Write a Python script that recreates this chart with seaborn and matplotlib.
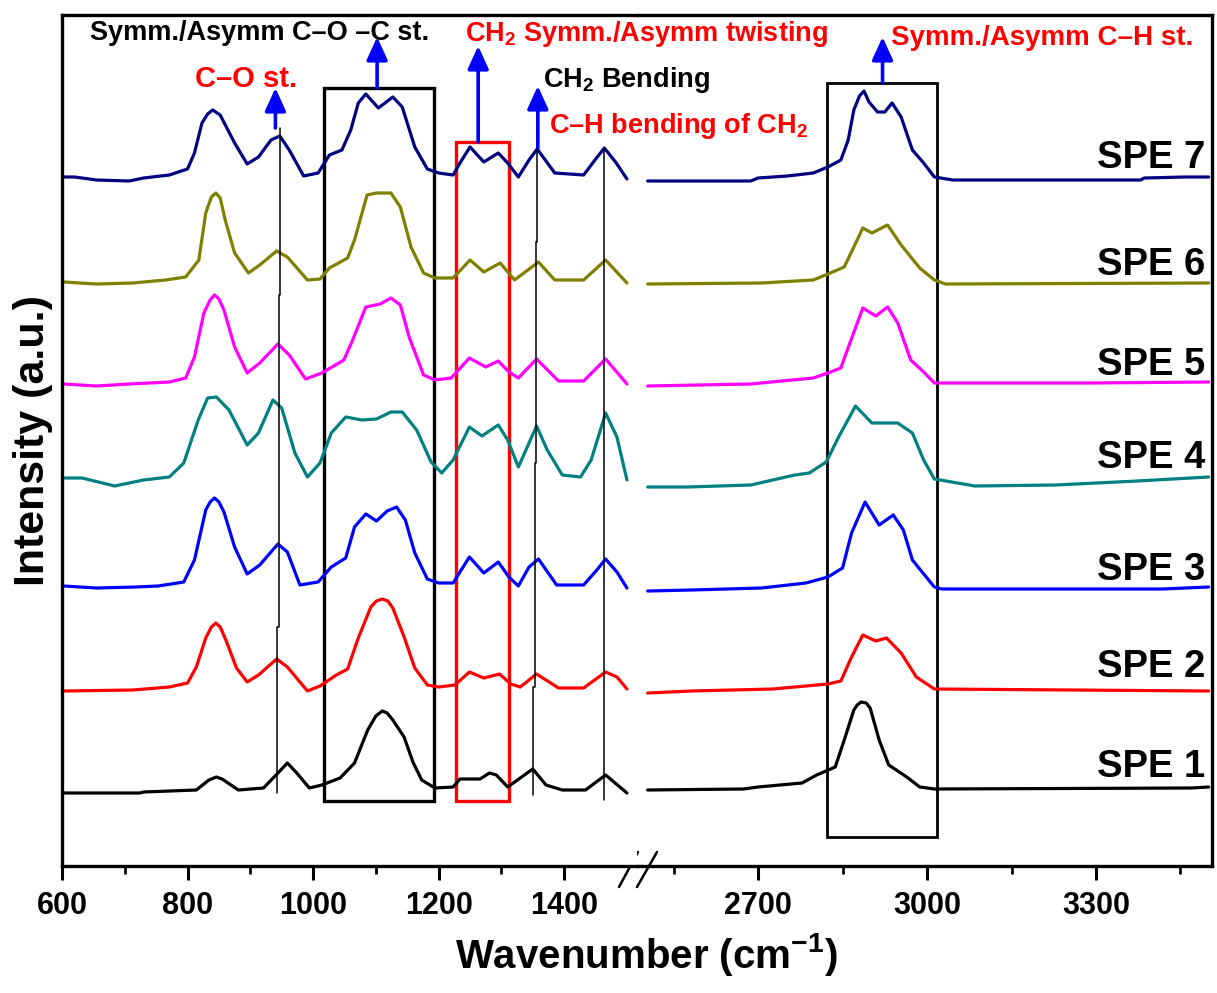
import numpy as np
import pandas as pd
import matplotlib
matplotlib.use("Agg")
import matplotlib.pyplot as plt
import seaborn as sns
from matplotlib.lines import Line2D
from matplotlib.patches import Rectangle

# ---------------- data ----------------
samples = ["SPE 1", "SPE 2", "SPE 3", "SPE 4", "SPE 5", "SPE 6", "SPE 7"]
colors = ["#000000", "#FF0000", "#0000FF", "#008080", "#FF00FF", "#808000", "#000080"]

# left segment (600-1500 cm-1)
spe1_lx = [603, 724, 730, 814, 834, 846, 855, 881, 921, 944, 959, 974, 994, 1014, 1043, 1066, 1087,
           1100, 1110, 1118, 1127, 1145, 1159, 1173, 1194, 1223, 1234, 1266, 1281, 1292, 1310, 1350,
           1371, 1397, 1434, 1466, 1500]
spe1_ly = [73, 73, 74, 76, 86, 89, 87, 76, 78, 93, 103, 93, 78, 81, 88, 103, 136,
           150, 155, 153, 146, 129, 104, 86, 78, 79, 87, 87, 93, 91, 79, 97,
           81, 76, 76, 91, 73]

spe2_lx = [603, 713, 771, 800, 814, 829, 838, 845, 852, 861, 878, 895, 913, 942, 959, 991, 1011,
           1037, 1055, 1072, 1092, 1101, 1110, 1119, 1127, 1145, 1162, 1182, 1200, 1226, 1249, 1272,
           1297, 1315, 1330, 1356, 1391, 1431, 1466, 1484, 1500]
spe2_ly = [175, 176, 179, 183, 199, 228, 239, 243, 239, 226, 198, 184, 191, 207, 199, 175, 180,
           191, 197, 228, 259, 265, 267, 265, 258, 229, 198, 181, 179, 181, 194, 188,
           192, 182, 179, 192, 178, 178, 194, 189, 177]

spe3_lx = [603, 655, 718, 753, 794, 811, 829, 836, 843, 850, 858, 875, 895, 915, 944, 959, 979,
           1008, 1029, 1052, 1066, 1084, 1101, 1118, 1133, 1147, 1162, 1182, 1200, 1223, 1249, 1272,
           1295, 1312, 1327, 1344, 1359, 1388, 1431, 1452, 1466, 1484, 1500]
spe3_ly = [280, 278, 279, 280, 284, 306, 356, 364, 368, 364, 354, 319, 292, 301, 322, 314, 281,
           284, 299, 308, 339, 352, 345, 355, 359, 346, 313, 287, 283, 283, 309, 293,
           304, 289, 280, 299, 307, 281, 281, 296, 307, 294, 278]

spe4_lx = [603, 632, 684, 730, 771, 794, 817, 832, 846, 866, 895, 913, 936, 950, 971, 991, 1011,
           1029, 1052, 1078, 1101, 1124, 1142, 1165, 1188, 1205, 1223, 1249, 1269, 1295, 1310, 1327,
           1356, 1373, 1397, 1426, 1443, 1466, 1484, 1500]
spe4_ly = [388, 388, 380, 386, 389, 403, 446, 468, 469, 456, 421, 433, 466, 458, 413, 389, 403,
           433, 449, 446, 447, 454, 454, 436, 404, 393, 406, 439, 430, 441, 426, 399,
           440, 416, 391, 389, 406, 453, 429, 386]

spe5_lx = [603, 655, 707, 771, 797, 811, 826, 836, 843, 850, 858, 875, 895, 915, 944, 962, 988,
           1014, 1049, 1063, 1084, 1107, 1124, 1139, 1153, 1176, 1194, 1220, 1249, 1275, 1295, 1312,
           1327, 1356, 1391, 1431, 1466, 1500]
spe5_ly = [482, 480, 482, 484, 488, 509, 553, 566, 571, 567, 556, 519, 493, 503, 522, 511, 487,
           493, 506, 526, 559, 562, 568, 561, 529, 491, 486, 488, 508, 499, 505, 494,
           488, 507, 485, 485, 507, 482]

spe6_lx = [603, 655, 713, 765, 797, 818, 829, 838, 845, 852, 860, 875, 897, 915, 942, 959, 991,
           1011, 1026, 1055, 1066, 1086, 1101, 1124, 1139, 1156, 1176, 1194, 1223, 1250, 1272, 1298,
           1321, 1359, 1385, 1431, 1466, 1500]
spe6_ly = [584, 582, 583, 586, 589, 606, 653, 669, 673, 668, 646, 613, 593, 601, 615, 609, 586,
           587, 598, 608, 626, 671, 673, 673, 659, 619, 593, 588, 588, 606, 594, 603,
           586, 604, 586, 586, 606, 583]

spe7_lx = [603, 620, 655, 707, 730, 771, 800, 811, 823, 832, 840, 852, 875, 895, 913, 933, 947,
           962, 985, 1008, 1026, 1046, 1060, 1072, 1084, 1104, 1127, 1142, 1162, 1182, 1200, 1223,
           1234, 1250, 1272, 1295, 1310, 1327, 1344, 1357, 1385, 1431, 1449, 1464, 1483, 1500]
spe7_ly = [689, 689, 686, 685, 688, 691, 697, 713, 743, 752, 756, 751, 723, 702, 709, 726, 730,
           716, 690, 693, 711, 716, 736, 763, 772, 758, 769, 759, 719, 697, 693, 691,
           703, 719, 704, 713, 703, 689, 706, 717, 693, 691, 706, 718, 703, 687]

# right segment (2500-3500 cm-1)
spe1_rx = [2504, 2674, 2700, 2778, 2804, 2837, 2853, 2870, 2876, 2883, 2892, 2899, 2915, 2932, 2964,
           2987, 3013, 3470, 3500]
spe1_ry = [76, 77, 79, 83, 91, 99, 126, 156, 161, 164, 163, 158, 126, 101, 89,
           79, 77, 78, 79]

spe2_rx = [2504, 2582, 2726, 2824, 2847, 2866, 2886, 2909, 2928, 2954, 2981, 3013, 3500]
spe2_ry = [173, 175, 177, 182, 185, 209, 231, 225, 228, 213, 189, 177, 175]

spe3_rx = [2504, 2582, 2706, 2785, 2824, 2850, 2866, 2890, 2915, 2940, 2958, 2974, 3013, 3026, 3418, 3500]
spe3_ry = [275, 276, 278, 283, 289, 298, 333, 364, 341, 351, 336, 306, 279, 277, 277, 279]

spe4_rx = [2504, 2575, 2687, 2765, 2791, 2821, 2843, 2873, 2902, 2948, 2974, 2994, 3013, 3085, 3229, 3373, 3500]
spe4_ry = [379, 379, 381, 391, 393, 404, 429, 460, 443, 443, 433, 406, 387, 380, 381, 385, 389]

spe5_rx = [2504, 2687, 2798, 2824, 2847, 2863, 2886, 2909, 2930, 2948, 2971, 2994, 3013, 3288, 3500]
spe5_ry = [480, 482, 488, 493, 498, 523, 558, 550, 559, 543, 506, 494, 483, 483, 484]

spe6_rx = [2504, 2706, 2798, 2824, 2853, 2870, 2886, 2902, 2930, 2954, 2987, 3013, 3033, 3500]
spe6_ry = [582, 583, 586, 592, 599, 619, 638, 633, 641, 621, 598, 586, 582, 583]

spe7_rx = [2504, 2687, 2700, 2752, 2798, 2824, 2847, 2860, 2870, 2880, 2888, 2897, 2912, 2925, 2938,
           2954, 2974, 2994, 3013, 3046, 3379, 3386, 3458, 3500]
spe7_ry = [685, 685, 688, 690, 693, 699, 706, 726, 756, 770, 775, 764, 754, 754, 763,
           749, 716, 703, 689, 686, 686, 688, 689, 689]

label_y = [89, 189, 286, 398, 491, 591, 698]   # baseline of the "SPE n" labels

left_xticks = [600, 800, 1000, 1200, 1400]
left_minor = [700, 900, 1100, 1300]
right_xticks = [2700, 3000, 3300]
right_minor = [2550, 2850, 3150, 3450]

# ---------------- assemble long tables ----------------
lefts = [(spe1_lx, spe1_ly), (spe2_lx, spe2_ly), (spe3_lx, spe3_ly), (spe4_lx, spe4_ly),
         (spe5_lx, spe5_ly), (spe6_lx, spe6_ly), (spe7_lx, spe7_ly)]
rights = [(spe1_rx, spe1_ry), (spe2_rx, spe2_ry), (spe3_rx, spe3_ry), (spe4_rx, spe4_ry),
          (spe5_rx, spe5_ry), (spe6_rx, spe6_ry), (spe7_rx, spe7_ry)]


def build(parts):
    frames = []
    for name, (xs, ys) in zip(samples, parts):
        frames.append(pd.DataFrame({"wavenumber": xs, "intensity": ys, "sample": name}))
    return pd.concat(frames, ignore_index=True)


df_left = build(lefts)
df_right = build(rights)
palette = dict(zip(samples, colors))

# ---------------- style ----------------
sns.set_style("white")
plt.rcParams["font.family"] = ["Liberation Sans", "DejaVu Sans"]
plt.rcParams["font.weight"] = "bold"
plt.rcParams["text.color"] = "black"
plt.rcParams["xtick.color"] = "black"
plt.rcParams["mathtext.fontset"] = "custom"
plt.rcParams["mathtext.rm"] = "Liberation Sans:bold"
plt.rcParams["mathtext.bf"] = "Liberation Sans:bold"
plt.rcParams["mathtext.it"] = "Liberation Sans:bold"
plt.rcParams["mathtext.default"] = "bf"

W, H = 1217, 993
fig = plt.figure(figsize=(W / 100, H / 100), dpi=100)
ax_bottom = (H - 866) / H
ax_height = 851 / H
axL = fig.add_axes([62 / W, ax_bottom, 575 / W, ax_height])
axR = fig.add_axes([637 / W, ax_bottom, 575 / W, ax_height])
axR.patch.set_visible(False)
axL.set_zorder(3)
axR.set_zorder(2)

sns.lineplot(data=df_left, x="wavenumber", y="intensity", hue="sample", palette=palette,
             estimator=None, sort=False, legend=False, linewidth=2.3, ax=axL)
sns.lineplot(data=df_right, x="wavenumber", y="intensity", hue="sample", palette=palette,
             estimator=None, sort=False, legend=False, linewidth=2.3, ax=axR)
for ax in (axL, axR):
    for ln in ax.get_lines():
        ln.set_solid_joinstyle("round")

axL.set_xlim(600, 1516)
axR.set_xlim(2485, 3506)
for ax in (axL, axR):
    ax.set_ylim(0, 851)
    ax.set_xlabel("")
    ax.set_ylabel("")
    ax.set_yticks([])
    for s in ax.spines.values():
        s.set_linewidth(2.4)
        s.set_color("black")
    ax.tick_params(axis="x", which="major", direction="out", length=10, width=2.2,
                   labelsize=22, pad=8, bottom=True, top=False, colors="black")
    ax.tick_params(axis="x", which="minor", direction="out", length=6, width=2.0,
                   bottom=True, top=False, colors="black")
axL.spines["right"].set_visible(False)
axR.spines["left"].set_visible(False)
axL.set_xticks(left_xticks)
axL.set_xticks(left_minor, minor=True)
axR.set_xticks(right_xticks)
axR.set_xticks(right_minor, minor=True)
for ax in (axL, axR):
    for t in ax.get_xticklabels():
        t.set_fontweight("bold")

# break marks
for (x0, x1) in [(619, 638), (637, 657)]:
    fig.add_artist(Line2D([x0 / W, x1 / W], [(H - 887) / H, (H - 852) / H],
                          color="black", lw=1.8, transform=fig.transFigure))

# vertical guide lines
axL.plot([948, 948, 946, 946, 943, 943], [738, 571, 571, 239, 239, 73], color="black", lw=1.1)
axL.plot([1357, 1357, 1355, 1355, 1353, 1353, 1350, 1350],
         [718, 624, 624, 403, 403, 179, 179, 71], color="black", lw=1.1)
axL.plot([1464, 1464], [718, 66], color="black", lw=1.1)

# boxes
axL.add_patch(Rectangle((1017, 65), 1193 - 1017, 778 - 65, fill=False, ec="black", lw=2.4))
axL.add_patch(Rectangle((1227, 65), 1312 - 1227, 724 - 65, fill=False, ec="#FF0000", lw=2.4))
axR.add_patch(Rectangle((2822, 29), 3018 - 2822, 783 - 29, fill=False, ec="black", lw=2.0))

# blue arrows
arrow_kw = dict(arrowstyle="-|>,head_length=0.7,head_width=0.32", color="#0000FF", lw=2.6,
                mutation_scale=20, shrinkA=0, shrinkB=0)
for ax, x, y0, y1 in [(axL, 940, 738, 778), (axL, 1102, 778, 829), (axL, 1263, 724, 820),
                      (axL, 1358, 718, 780), (axR, 2921, 783, 829)]:
    ax.annotate("", xy=(x, y1), xytext=(x, y0), arrowprops=arrow_kw, annotation_clip=False)

# annotation texts
axL.text(645, 826, "Symm./Asymm C\u2013O \u2013C st.", color="black", fontsize=19.5,
         fontweight="bold", ha="left", va="baseline", clip_on=False)
axL.text(812, 779, "C\u2013O st.", color="#FF0000", fontsize=21, fontweight="bold",
         ha="left", va="baseline", clip_on=False)
axL.text(1242, 825, "CH$_{2}$ Symm./Asymm twisting", color="#FF0000", fontsize=19.5,
         fontweight="bold", ha="left", va="baseline", clip_on=False)
axL.text(1366, 779, "CH$_{2}$ Bending", color="black", fontsize=19.5, fontweight="bold",
         ha="left", va="baseline", clip_on=False)
axL.text(1376, 733, "C\u2013H bending of CH$_{2}$", color="#FF0000", fontsize=19.5,
         fontweight="bold", ha="left", va="baseline", clip_on=False)
axR.text(2936, 821, "Symm./Asymm C\u2013H st.", color="#FF0000", fontsize=20,
         fontweight="bold", ha="left", va="baseline", clip_on=False)

for name, yb in zip(samples, label_y):
    axR.text(3494, yb, name, color="black", fontsize=27.5, fontweight="bold",
             ha="right", va="baseline")

# axis titles
fig.text(646 / W, (H - 968) / H, "Wavenumber (cm$^{-1}$)", fontsize=29, fontweight="bold",
         ha="center", va="baseline")
fig.text(33 / W, (H - 440) / H, "Intensity (a.u.)", fontsize=31, fontweight="bold",
         rotation=90, ha="center", va="center")

fig.savefig("out.png", dpi=100)
